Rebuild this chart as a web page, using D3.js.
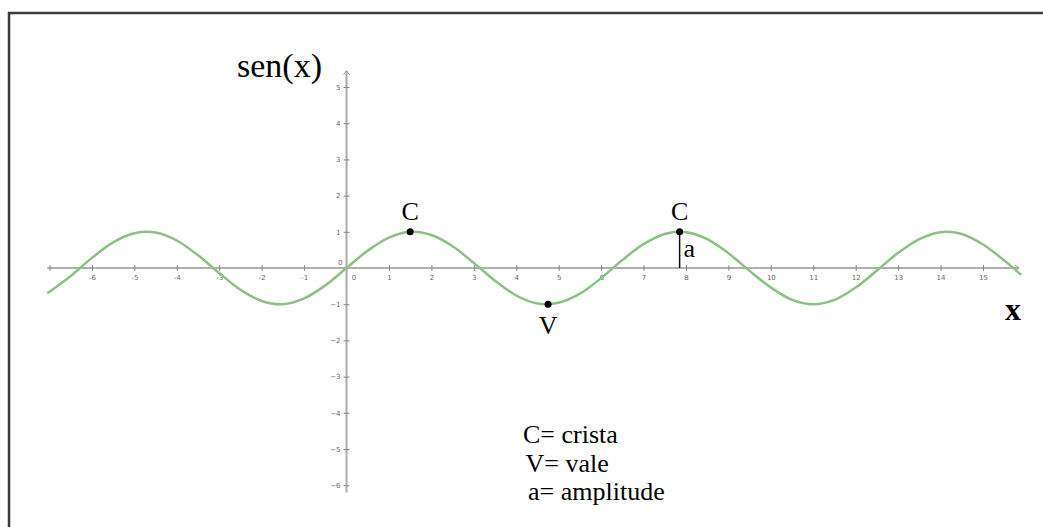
<!DOCTYPE html>
<html>
<head>
<meta charset="utf-8">
<script src="https://cdn.jsdelivr.net/npm/d3@7"></script>
<style>
  body { margin: 0; background: #fff; }
  .tick text { font-family: "DejaVu Sans", sans-serif; font-size: 7px; fill: #666; }
  .serif { font-family: "Liberation Serif", "Times New Roman", serif; fill: #000; }
</style>
</head>
<body>
<div id="chart"></div>
<script>
// curve points (x, sen(x))
const curveX = [-7.05, -6.5, -6, -5.5, -5, -4.5, -4, -3.5, -3, -2.5, -2, -1.5, -1, -0.5, 0,
  0.5, 1, 1.5, 2, 2.5, 3, 3.5, 4, 4.5, 5, 5.5, 6, 6.5, 7, 7.5, 8, 8.5, 9, 9.5, 10,
  10.5, 11, 11.5, 12, 12.5, 13, 13.5, 14, 14.5, 15, 15.5, 15.9];
const curveY = [-0.70, -0.22, 0.28, 0.71, 0.96, 0.98, 0.76, 0.35, -0.14, -0.60, -0.91, -1.00, -0.84, -0.48, 0,
  0.48, 0.84, 1.00, 0.91, 0.60, 0.14, -0.35, -0.76, -0.98, -0.96, -0.71, -0.28, 0.22, 0.66, 0.94, 0.99, 0.80, 0.41, -0.08, -0.54,
  -0.88, -1.00, -0.88, -0.54, -0.07, 0.42, 0.80, 0.99, 0.94, 0.65, 0.21, -0.19];

// marked points
const markLabels = ["C", "V", "C"];
const markX = [1.5, 4.75, 7.85];
const markY = [1, -1, 1];

const xTicks = d3.range(-7, 16);
const yTicks = [-6, -5, -4, -3, -2, -1, 1, 2, 3, 4, 5];
const legendLines = ["C= crista", "V= vale", "a= amplitude"];

const W = 1043, H = 527;

const svg = d3.select("#chart").append("svg")
  .attr("width", W)
  .attr("height", H);

const x = d3.scaleLinear().domain([-7, 15]).range([49.5, 983]);
const y = d3.scaleLinear().domain([-6, 5]).range([485.2, 87]);

// frame (top and left edges only)
svg.append("line").attr("x1", 8).attr("x2", W).attr("y1", 13).attr("y2", 13)
  .attr("stroke", "#3a3a3a").attr("stroke-width", 2.5);
svg.append("line").attr("x1", 9).attr("x2", 9).attr("y1", 12).attr("y2", H)
  .attr("stroke", "#3a3a3a").attr("stroke-width", 2.5);

// x axis
svg.append("line")
  .attr("x1", x(-7.05)).attr("x2", x(15.85))
  .attr("y1", y(0)).attr("y2", y(0))
  .attr("stroke", "#b0b0b0").attr("stroke-width", 2.2);

const gx = svg.append("g")
  .attr("transform", `translate(0,${y(0)})`)
  .call(d3.axisBottom(x).tickValues(xTicks).tickSize(3).tickPadding(4)
    .tickFormat(d => (d === -7 ? "" : d)));
gx.select(".domain").remove();
gx.selectAll(".tick line").attr("y1", -3).attr("stroke", "#888");
gx.selectAll(".tick").filter(d => d === 0).select("text").attr("dx", 7);
gx.selectAll(".tick").filter(d => d === 0).select("line").remove();

// x arrow
svg.append("path")
  .attr("d", `M${x(15.85) - 4},${y(0) - 3}L${x(15.85)},${y(0)}L${x(15.85) - 4},${y(0) + 3}`)
  .attr("fill", "none").attr("stroke", "#999").attr("stroke-width", 1);

// y axis
svg.append("line")
  .attr("x1", x(0)).attr("x2", x(0))
  .attr("y1", y(5.45)).attr("y2", y(-6.2))
  .attr("stroke", "#b0b0b0").attr("stroke-width", 2.2);

const gy = svg.append("g")
  .attr("transform", `translate(${x(0)},0)`)
  .call(d3.axisLeft(y).tickValues(yTicks).tickSize(3).tickPadding(3));
gy.select(".domain").remove();
gy.selectAll(".tick line").attr("x1", 3).attr("stroke", "#888");

svg.append("text")
  .attr("x", x(0) - 4).attr("y", y(0) - 3)
  .attr("text-anchor", "end")
  .style("font-family", "DejaVu Sans, sans-serif").style("font-size", "7px").style("fill", "#666")
  .text("0");

// y arrow
svg.append("path")
  .attr("d", `M${x(0) - 3},${y(5.45) + 4}L${x(0)},${y(5.45)}L${x(0) + 3},${y(5.45) + 4}`)
  .attr("fill", "none").attr("stroke", "#999").attr("stroke-width", 1);

// sine curve
const pts = curveX.map((d, i) => [d, curveY[i]]);
svg.append("path")
  .datum(pts)
  .attr("d", d3.line().x(d => x(d[0])).y(d => y(d[1])).curve(d3.curveCatmullRom))
  .attr("fill", "none")
  .attr("stroke", "#8cc084")
  .attr("stroke-width", 2.5);

// amplitude segment
svg.append("line")
  .attr("x1", x(markX[2])).attr("x2", x(markX[2]))
  .attr("y1", y(markY[2])).attr("y2", y(0))
  .attr("stroke", "#111").attr("stroke-width", 1.5);

svg.append("text").attr("class", "serif")
  .attr("x", x(markX[2]) + 4).attr("y", y(0.3))
  .style("font-size", "26px")
  .text("a");

// marked points and labels
svg.selectAll(".mark").data(markX).join("circle")
  .attr("class", "mark")
  .attr("cx", d => x(d))
  .attr("cy", (d, i) => y(markY[i]))
  .attr("r", 3.5)
  .attr("fill", "#000");

svg.selectAll(".mlabel").data(markX).join("text")
  .attr("class", "mlabel serif")
  .attr("x", d => x(d))
  .attr("y", (d, i) => markY[i] > 0 ? y(markY[i]) - 12 : y(markY[i]) + 30)
  .attr("text-anchor", "middle")
  .style("font-size", "26px")
  .text((d, i) => markLabels[i]);

// axis titles
svg.append("text").attr("class", "serif")
  .attr("x", 237).attr("y", 77)
  .style("font-size", "34px")
  .text("sen(x)");

svg.append("text").attr("class", "serif")
  .attr("x", 1005).attr("y", 320)
  .style("font-size", "32px").style("font-weight", "bold")
  .text("x");

// legend
svg.selectAll(".legend").data(legendLines).join("text")
  .attr("class", "legend serif")
  .attr("x", (d, i) => 523 + i * 2.5)
  .attr("y", (d, i) => 443 + i * 28.5)
  .style("font-size", "26px")
  .text(d => d);
</script>
</body>
</html>
